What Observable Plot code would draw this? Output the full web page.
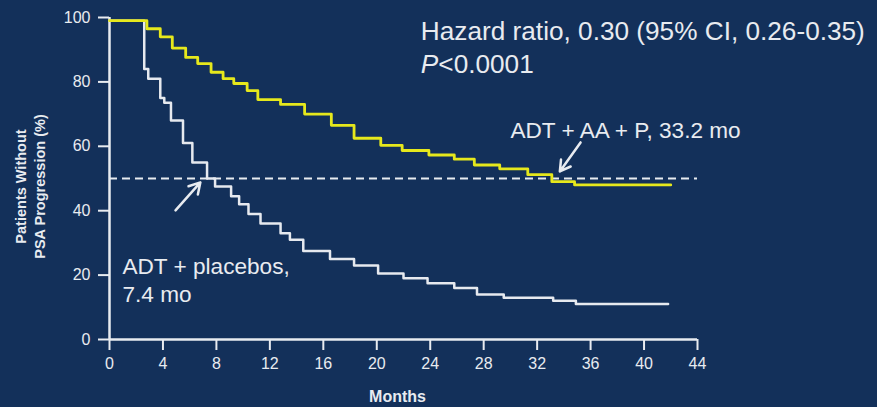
<!DOCTYPE html>
<html><head><meta charset="utf-8">
<script src="https://cdn.jsdelivr.net/npm/d3@7"></script>
<script src="https://cdn.jsdelivr.net/npm/@observablehq/plot@0.6"></script>
<style>
html,body{margin:0;padding:0;background:#13305a;}
#chart{width:877px;height:407px;overflow:hidden;}
</style></head><body><div id="chart"></div>
<script>
// ADT + AA + P (yellow)
const aaMonths = [0, 2.8, 3.8, 4.7, 5.7, 6.6, 7.6, 8.5, 9.3, 10.3, 11.1, 12.8, 14.6, 16.6, 18.3, 20.3, 21.9, 23.9, 25.8, 27.3, 29.2, 31.3, 33.1, 34.8, 42];
const aaPct    = [99, 96.5, 94, 90.5, 87.6, 85.7, 83, 81, 79.5, 77.3, 74.5, 73, 70, 66.5, 62.5, 60.3, 58.7, 57.3, 56, 54.2, 53, 51.2, 49, 48, 48];
// ADT + placebos (white)
const pbMonths = [0, 2.6, 2.9, 3.8, 4.1, 4.6, 5.5, 6.2, 7.3, 7.9, 9.1, 9.7, 10.4, 11.3, 12.8, 13.5, 14.5, 16.5, 18.3, 20.1, 22.0, 23.8, 25.8, 27.5, 29.5, 33.2, 34.9, 41.8];
const pbPct    = [99, 84, 81, 75, 73.5, 68, 61, 55, 50, 47.5, 44.5, 42, 39, 36, 33, 31, 27.5, 25, 23, 20.5, 19, 17.5, 16, 14, 13, 12, 11, 11];

const xTicks = [0, 4, 8, 12, 16, 20, 24, 28, 32, 36, 40, 44];
const yTicks = [0, 20, 40, 60, 80, 100];
const medianLevel = [50];

const hrText = ["Hazard ratio, 0.30 (95% CI, 0.26-0.35)"];
const pText = ["P<0.0001"];
const aaLabel = ["ADT + AA + P, 33.2 mo"];
const pbLabel = ["ADT + placebos,\n7.4 mo"];
const yLabel = ["Patients Without\nPSA Progression (%)"];
const xLabel = ["Months"];

// annotation arrows (data units: months, %)
const arrowFromX = [4.94, 35.25];
const arrowFromY = [40.1, 61.2];
const arrowToX   = [6.8, 33.7];
const arrowToY   = [48.8, 52.2];

const aaData = aaMonths.map((t, i) => ({t, s: aaPct[i]}));
const pbData = pbMonths.map((t, i) => ({t, s: pbPct[i]}));
const arrows = arrowFromX.map((x, i) => ({x1: x, y1: arrowFromY[i], x2: arrowToX[i], y2: arrowToY[i]}));

const FG = "#e8ebf0";
const font = "'Liberation Sans', Arial, Helvetica, sans-serif";

const chart = Plot.plot({
  width: 877,
  height: 407,
  marginLeft: 109,
  marginRight: 180,
  marginTop: 17,
  marginBottom: 68,
  style: {background: "#13305a", color: FG, fontFamily: font},
  x: {domain: [0, 44]},
  y: {domain: [0, 100]},
  marks: [
    Plot.axisX({ticks: xTicks, tickSize: 11, tickPadding: 7, fontSize: 16, strokeWidth: 2, label: null, tickFormat: d => String(d)}),
    Plot.axisY({ticks: yTicks, tickSize: 11, tickPadding: 8, fontSize: 16, strokeWidth: 2, label: null, tickFormat: d => String(d)}),
    Plot.ruleX([0], {y1: 0, y2: 100, stroke: FG, strokeWidth: 2.5}),
    Plot.ruleY([0], {x1: 0, x2: 44, stroke: FG, strokeWidth: 2.5}),
    Plot.ruleY(medianLevel, {x1: 0, x2: 44, stroke: FG, strokeWidth: 2, strokeDasharray: "8 5"}),
    Plot.line(pbData, {x: "t", y: "s", curve: "step-after", stroke: "#e6e9ef", strokeWidth: 2.5}),
    Plot.line(aaData, {x: "t", y: "s", curve: "step-after", stroke: "#e6e81c", strokeWidth: 2.8}),
    Plot.arrow(arrows, {x1: "x1", y1: "y1", x2: "x2", y2: "y2", stroke: FG, strokeWidth: 2.5, headLength: 11, headAngle: 60}),
    Plot.text(hrText, {x: 23.3, y: 93.1, text: d => d, textAnchor: "start", lineAnchor: "bottom", fontSize: 26.2, fill: FG}),
    Plot.text(pText, {x: 23.3, y: 82.9, text: d => d, textAnchor: "start", lineAnchor: "bottom", fontSize: 26.2, fill: FG}),
    Plot.text(aaLabel, {x: 30.0, y: 62.7, text: d => d, textAnchor: "start", lineAnchor: "bottom", fontSize: 22.6, fill: FG}),
    Plot.text(pbLabel, {x: 0.97, y: 26.6, text: d => d, textAnchor: "start", lineAnchor: "top", lineHeight: 1.24, fontSize: 22.6, fill: FG}),
    Plot.text(yLabel, {frameAnchor: "left", dx: -80, dy: 8, rotate: -90, text: d => d, textAnchor: "middle", lineAnchor: "middle", lineHeight: 1.3, fontSize: 14.5, fontWeight: "bold", fill: FG}),
    Plot.text(xLabel, {frameAnchor: "bottom", dx: -6, dy: 62, text: d => d, textAnchor: "middle", lineAnchor: "bottom", fontSize: 16, fontWeight: "bold", fill: FG})
  ]
});

document.getElementById("chart").appendChild(chart);

// italic "P" in the P-value
d3.select(chart).selectAll("text").filter(function() { return this.textContent === "P<0.0001"; })
  .each(function() {
    const t = d3.select(this);
    t.text(null);
    t.append("tspan").attr("font-style", "italic").text("P");
    t.append("tspan").text("<0.0001");
  });
</script>
</body></html>
